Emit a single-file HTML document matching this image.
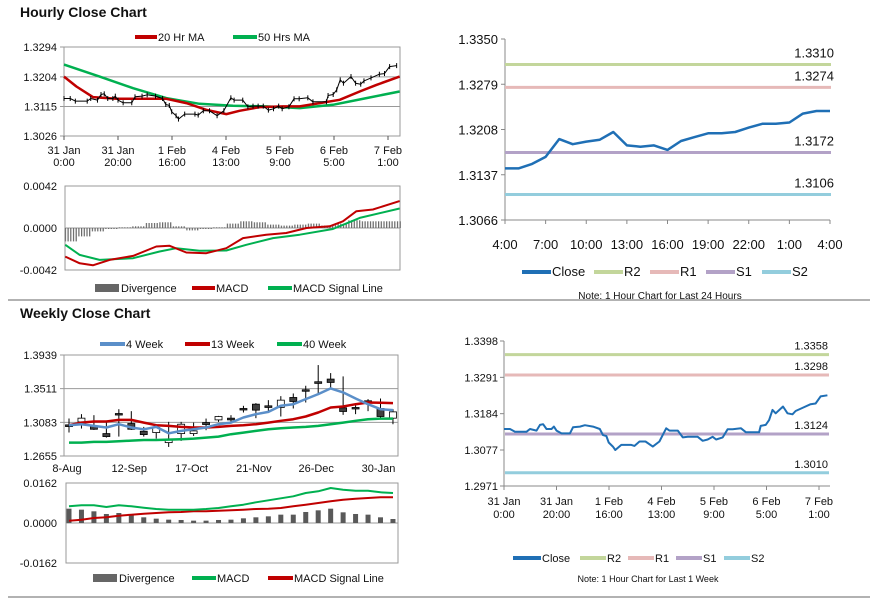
<!DOCTYPE html>
<html><head><meta charset="utf-8"><style>
body{margin:0;background:#fff;}
svg{display:block;font-family:"Liberation Sans",sans-serif;}
</style></head><body>
<svg id="s" width="873" height="601" viewBox="0 0 873 601" xmlns="http://www.w3.org/2000/svg">
<defs><pattern id="hatch" width="2.7" height="4" patternUnits="userSpaceOnUse"><rect x="0" y="0" width="1.2" height="4" fill="#666"/></pattern></defs>
<text x="20" y="17" font-size="14" font-weight="bold" fill="#111">Hourly Close Chart</text>
<text x="20" y="318" font-size="14" font-weight="bold" fill="#111">Weekly Close Chart</text>
<line x1="8" y1="300" x2="870" y2="300" stroke="#999" stroke-width="1.5"/>
<line x1="8" y1="597" x2="870" y2="597" stroke="#999" stroke-width="1.5"/>
</svg>
<script>
// ---------- Hourly (left top) ----------
const hCloseHours=[0,2.3,4.2,8.6,9.9,12.4,13.7,14.9,16.2,18.1,19,20,21.9,25.1,26.3,28.9,30.8,33.9,36.5,37.7,39,39.9,41.5,42.4,44.7,48.5,49.7,51.6,53.9,56.7,59.2,61.8,63,66.2,68.1,70,71.9,73.8,75.7,77.6,79.5,80.8,83.3,85.2,87.1,90.3,92.2,97.2,97.8,99.7,101,102.3,103.5,106.3,108,109.9,111.1,113.7,116.8,118.7,120.6,123.2];
const hCloseVals=[1.3139,1.3139,1.3131,1.3131,1.3139,1.3134,1.3151,1.3153,1.3139,1.3139,1.3146,1.3134,1.3126,1.3126,1.3144,1.3146,1.3150,1.3146,1.3139,1.3121,1.3118,1.3099,1.3087,1.3077,1.3092,1.3092,1.3089,1.3102,1.3102,1.3087,1.3102,1.3141,1.3134,1.3134,1.3114,1.3116,1.3116,1.3116,1.3104,1.3108,1.3116,1.3108,1.3114,1.3138,1.3138,1.3141,1.3129,1.3129,1.3148,1.3151,1.3165,1.3195,1.3185,1.3205,1.3185,1.3182,1.3192,1.3201,1.3212,1.3214,1.3235,1.3238];
const ma20Hours=[0,4.6,10.7,19.4,28,37.9,45.3,52.7,60.1,65,72.5,81.1,87.3,94.7,102.1,109.5,115.7,124.3];
const ma20Vals=[1.3205,1.3175,1.3143,1.3138,1.3138,1.3138,1.3125,1.3105,1.3092,1.3102,1.3113,1.3115,1.3115,1.3125,1.3135,1.3160,1.3180,1.3205];
const ma50Hours=[0,13.2,25.6,37.9,50.2,62.6,75,87.3,99.6,112,124.3];
const ma50Vals=[1.3241,1.3205,1.3170,1.3140,1.3123,1.3117,1.3115,1.3110,1.3120,1.3140,1.3160];
const hPriceTicks=[1.3294,1.3204,1.3115,1.3026];
const hTimeTicks=[0,20,40,60,80,100,120];
const hTimeLab1=["31 Jan","31 Jan","1 Feb","4 Feb","5 Feb","6 Feb","7 Feb"];
const hTimeLab2=["0:00","20:00","16:00","13:00","9:00","5:00","1:00"];
// hourly MACD
const macdHours=[0.5,5.8,10.7,16.9,25.6,34.2,39.1,45.3,52.7,60.1,66.3,74.9,82.3,89.8,98.4,103.3,108.3,114.4,124.3];
const macdVals=[-0.00286,-0.00353,-0.00373,-0.00319,-0.00279,-0.00185,-0.00178,-0.00245,-0.00252,-0.00202,-0.00101,-0.00067,-0.0005,0,0.00017,0.00067,0.00168,0.00185,0.00269];
const sigHours=[0.5,5.8,13.2,25.6,35.4,41.6,50.2,60.1,67.5,77.4,87.3,99.6,109.5,124.3];
const sigVals=[-0.00168,-0.00269,-0.00319,-0.00302,-0.00235,-0.00202,-0.00228,-0.00225,-0.00168,-0.00101,-0.00067,-0.0001,0.00101,0.00195];
const divHours=[0,5,10,15,20,25,30,35,40,45,50,55,60,65,70,75,80,85,90,95,100,105,110,115,120];
const divVals=[-0.00134,-0.00084,-0.00034,-0.0001,0.00007,0.00017,0.0005,0.00057,0.00017,-0.00024,-0.0001,0.00007,0.00044,0.00067,0.00057,0.00034,0.00024,0.00034,0.00044,0.00024,0.00044,0.00077,0.00067,0.00067,0.00067];
const macdTicks=[0.0042,0,-0.0042];
const macdTickLab=["0.0042","0.0000","-0.0042"];
// ---------- Weekly ----------
const wOpen=[1.3051,1.3089,1.3038,1.2940,1.3195,1.3068,1.2970,1.2953,1.2825,1.2940,1.2940,1.3080,1.3114,1.3136,1.3259,1.3314,1.3293,1.3272,1.3399,1.3497,1.3599,1.3633,1.3267,1.3272,1.3357,1.3259,1.3136];
const wClose=[1.3029,1.3136,1.2995,1.2902,1.3178,1.2995,1.2927,1.3017,1.2868,1.3059,1.2974,1.3055,1.3157,1.3114,1.3242,1.3238,1.3272,1.3365,1.3348,1.3480,1.3578,1.3590,1.3221,1.3259,1.3335,1.3157,1.3216];
const wHigh=[1.3131,1.3187,1.3174,1.3089,1.3250,1.3225,1.3025,1.3059,1.3089,1.3089,1.3080,1.3131,1.3165,1.3174,1.3293,1.3327,1.3365,1.3416,1.3450,1.3548,1.3811,1.3709,1.3667,1.3323,1.3378,1.3386,1.3250];
const wLow=[1.2953,1.3004,1.2987,1.2889,1.2902,1.2987,1.2902,1.2876,1.2770,1.2847,1.2910,1.2983,1.3089,1.3089,1.3208,1.3136,1.3216,1.3157,1.3259,1.3335,1.3454,1.3518,1.3178,1.3187,1.3225,1.3144,1.3059];
const ma4w=[1.3046,1.3059,1.3038,1.3017,1.3059,1.3017,1.2995,1.3025,1.2944,1.2974,1.2995,1.3017,1.3059,1.3080,1.3144,1.3187,1.3216,1.3293,1.3314,1.3378,1.3442,1.3514,1.3463,1.3386,1.3314,1.3250,1.3238];
const ma13w=[1.3046,1.3080,1.3093,1.3093,1.3114,1.3114,1.3080,1.3046,1.3038,1.3025,1.3017,1.3017,1.3025,1.3038,1.3046,1.3059,1.3080,1.3102,1.3123,1.3157,1.3208,1.3272,1.3284,1.3314,1.3335,1.3331,1.3327];
const ma40w=[1.2825,1.2825,1.2834,1.2834,1.2842,1.2851,1.2859,1.2859,1.2864,1.2868,1.2876,1.2889,1.2902,1.2932,1.2953,1.2974,1.2995,1.3008,1.3017,1.3025,1.3038,1.3059,1.3080,1.3102,1.3123,1.3131,1.3131];
const wPriceTicks=[1.3939,1.3511,1.3083,1.2655];
const wLabIdx=[0,5,10,15,20,25];
const wLabels=["8-Aug","12-Sep","17-Oct","21-Nov","26-Dec","30-Jan"];
const wMacd=[0.00675,0.00716,0.00716,0.00648,0.00716,0.00675,0.00621,0.00567,0.0054,0.0054,0.0054,0.00567,0.00608,0.00675,0.00743,0.00837,0.00918,0.00999,0.0108,0.01215,0.01283,0.01418,0.0135,0.0131,0.0131,0.01242,0.01215];
const wSig=[0.00095,0.00135,0.00203,0.0023,0.00297,0.00338,0.00378,0.00405,0.00432,0.00446,0.00473,0.00473,0.005,0.00513,0.0054,0.00567,0.0058,0.00608,0.00675,0.00743,0.0081,0.00878,0.00945,0.00986,0.01013,0.0104,0.0104];
const wDiv=[0.0058,0.0054,0.00473,0.00365,0.00405,0.00338,0.0023,0.00176,0.00135,0.00122,0.00095,0.00095,0.00122,0.00135,0.00189,0.0023,0.0027,0.00338,0.00338,0.00446,0.00513,0.0058,0.00432,0.00365,0.00338,0.0023,0.00162];
const wMacdTicks=[0.0162,0,-0.0162];
const wMacdLab=["0.0162","0.0000","-0.0162"];
// ---------- Right top (24h) ----------
const dayClose=[1.3147,1.3147,1.3154,1.3165,1.3193,1.3185,1.3189,1.3192,1.3204,1.3183,1.3181,1.3183,1.3176,1.3190,1.3196,1.3202,1.3202,1.3204,1.3211,1.3217,1.3217,1.3219,1.3233,1.3237,1.3237];
const dayLevels=[1.3310,1.3274,1.3172,1.3106];
const dayTicks=[1.3350,1.3279,1.3208,1.3137,1.3066];
const dayTimeLab=["4:00","7:00","10:00","13:00","16:00","19:00","22:00","1:00","4:00"];
// ---------- Right bottom (week) ----------
const weekLevels=[1.3358,1.3298,1.3124,1.3010];
const weekTicks=[1.3398,1.3291,1.3184,1.3077,1.2971];
const levelNames=["R2","R1","S1","S2"];
const levelColors=["#c3d69b","#e6b9b8","#b3a2c7","#93cddd"];

const S=document.getElementById('s');
const NS="http://www.w3.org/2000/svg";
function mk(tag,attrs,parent){const e=document.createElementNS(NS,tag);for(const k in attrs)e.setAttribute(k,attrs[k]);(parent||S).appendChild(e);return e;}
function txt(x,y,s,size,anchor,fill){const e=mk('text',{x:x,y:y,'font-size':size,'text-anchor':anchor||'start',fill:fill||'#111'});e.textContent=s;return e;}
function poly(xs,ys,color,w){return mk('polyline',{points:xs.map((x,i)=>x.toFixed(1)+','+ys[i].toFixed(1)).join(' '),fill:'none',stroke:color,'stroke-width':w,'stroke-linejoin':'round'});}

// scales
const xH=h=>64+h*2.7;
const yP1=v=>47+(1.3294-v)/0.0268*89;
const yM1=v=>228-v/0.0042*42;
const xW=i=>69+i*12.46;
const yW=v=>355+(1.3939-v)/0.1284*101;
const yWM=v=>523-v/0.0162*40;
const xR=i=>505+i*325/24;
const yR=v=>39+(1.3350-v)/0.0284*181;
const xB=h=>504+h*2.625;
const yB=v=>341+(1.3398-v)/0.0427*145;

let e;
function frame(x1,y1,x2,y2,name){
  e=mk('rect',{x:x1,y:y1,width:x2-x1,height:y2-y1,fill:'none',stroke:'#999','stroke-width':1});
  
  
}
function legendLine(x,y,color,label,w,size,name){
  const g=mk('g',{});
  
  
  mk('line',{x1:x,y1:y,x2:x+w,y2:y,stroke:color,'stroke-width':4},g);
  const t=mk('text',{x:x+w+1,y:y+4,'font-size':size,fill:'#111'},g);t.textContent=label;
}
function legendBox(x,y,label,name){
  const g=mk('g',{});
  
  
  mk('rect',{x:x,y:y-4,width:24,height:8,fill:'#666'},g);
  const t=mk('text',{x:x+26,y:y+4,'font-size':11,fill:'#111'},g);t.textContent=label;
}

// ===== Hourly price chart =====
frame(64,47,400,136,'hourly-plot-frame');
hPriceTicks.forEach(v=>{
  e=mk('line',{x1:60,y1:yP1(v),x2:400,y2:yP1(v),stroke:'#999','stroke-width':1});
  
  
  e=txt(57,yP1(v)+4,v.toFixed(4),11,'end');
  
  
});
hTimeTicks.forEach((h,i)=>{
  e=mk('line',{x1:xH(h),y1:136,x2:xH(h),y2:140,stroke:'#555'});
  
  
  e=txt(xH(h),154,hTimeLab1[i],11,'middle');
  
  
  e=txt(xH(h),166,hTimeLab2[i],11,'middle');
  
  
});
e=poly(ma50Hours.map(xH),ma50Vals.map(yP1),'#00b050',2.5);


e=poly(ma20Hours.map(xH),ma20Vals.map(yP1),'#c00000',2.5);


e=poly(hCloseHours.map(xH),hCloseVals.map(yP1),'#000',1);


hCloseHours.forEach((h,i)=>{
  e=mk('line',{x1:xH(h),y1:yP1(hCloseVals[i])-2.5,x2:xH(h),y2:yP1(hCloseVals[i])+2.5,stroke:'#000','stroke-width':1});
  
  
});
legendLine(135,37,'#c00000','20 Hr MA',22,11,'legend-ma20');
legendLine(233,37,'#00b050','50 Hrs MA',24,11,'legend-ma50');

// ===== Hourly MACD =====
frame(65,186,400,270,'hourly-macd-frame');
e=mk('line',{x1:65,y1:yM1(0),x2:400,y2:yM1(0),stroke:'#999'});


macdTicks.forEach((v,i)=>{
  e=txt(57,yM1(v)+4,macdTickLab[i],11,'end');
  
  
});
divHours.forEach((h,i)=>{
  const y0=yM1(0),y1=yM1(divVals[i]);
  e=mk('rect',{x:xH(h),y:Math.min(y0,y1),width:13.5,height:Math.max(0.8,Math.abs(y1-y0)),fill:'url(#hatch)'});
  
  
});
e=poly(sigHours.map(xH),sigVals.map(yM1),'#00b050',2);


e=poly(macdHours.map(xH),macdVals.map(yM1),'#c00000',2);


legendBox(95,288,'Divergence','legend-hourly-divergence');
legendLine(192,288,'#c00000','MACD',23,11,'legend-hourly-macd');
legendLine(268,288,'#00b050','MACD Signal Line',24,11,'legend-hourly-signal');

// ===== Weekly price chart =====
frame(64,355,398,456,'weekly-plot-frame');
wPriceTicks.forEach(v=>{
  e=mk('line',{x1:60,y1:yW(v),x2:398,y2:yW(v),stroke:'#999'});
  
  
  e=txt(57,yW(v)+4,v.toFixed(4),11,'end');
  
  
});
wLabIdx.forEach((idx,i)=>{
  e=txt(xW(idx)-2,472,wLabels[i],11,'middle');
  
  
});
wOpen.forEach((o,i)=>{
  const c=wClose[i],x=xW(i);
  e=mk('line',{x1:x,y1:yW(wHigh[i]),x2:x,y2:yW(wLow[i]),stroke:'#000','stroke-width':1});
  
  
  const top=yW(Math.max(o,c)),bot=yW(Math.min(o,c));
  e=mk('rect',{x:x-3.5,y:top,width:7,height:Math.max(1.5,bot-top),fill:c<o?'#404040':'#fff',stroke:'#000','stroke-width':0.8});
  
  
});
e=poly(ma40w.map((v,i)=>xW(i)),ma40w.map(yW),'#00b050',2.5);


e=poly(ma13w.map((v,i)=>xW(i)),ma13w.map(yW),'#c00000',2.5);


e=poly(ma4w.map((v,i)=>xW(i)),ma4w.map(yW),'#5b8fc9',2.5);


legendLine(100,344,'#5b8fc9','4 Week',25,11,'legend-4-week');
legendLine(185,344,'#c00000','13 Week',25,11,'legend-13-week');
legendLine(277,344,'#00b050','40 Week',25,11,'legend-40-week');

// ===== Weekly MACD =====
frame(66,483,398,563,'weekly-macd-frame');
e=mk('line',{x1:66,y1:yWM(0),x2:398,y2:yWM(0),stroke:'#999'});


wMacdTicks.forEach((v,i)=>{
  e=txt(57,yWM(v)+4,wMacdLab[i],11,'end');
  
  
});
wDiv.forEach((v,i)=>{
  const y0=yWM(0),y1=yWM(v);
  e=mk('rect',{x:xW(i)-2.5,y:Math.min(y0,y1),width:5,height:Math.abs(y1-y0),fill:'#595959'});
  
  
});
e=poly(wSig.map((v,i)=>xW(i)),wSig.map(yWM),'#c00000',2);


e=poly(wMacd.map((v,i)=>xW(i)),wMacd.map(yWM),'#00b050',2);


legendBox(93,578,'Divergence','legend-weekly-divergence');
legendLine(192,578,'#00b050','MACD',24,11,'legend-weekly-macd');
legendLine(268,578,'#c00000','MACD Signal Line',25,11,'legend-weekly-signal');

// ===== Right top: 24h chart =====
e=mk('line',{x1:505,y1:39,x2:505,y2:220,stroke:'#888'});


e=mk('line',{x1:505,y1:220,x2:830,y2:220,stroke:'#888'});


dayTicks.forEach(v=>{
  e=mk('line',{x1:501,y1:yR(v),x2:505,y2:yR(v),stroke:'#888'});
  
  
  e=txt(498,yR(v)+5,v.toFixed(4),13,'end');
  
  
});
dayTimeLab.forEach((s,i)=>{
  const x=xR(i*3);
  e=mk('line',{x1:x,y1:220,x2:x,y2:224,stroke:'#888'});
  
  
  e=txt(x,249,s,13,'middle');
  
  
});
dayLevels.forEach((v,i)=>{
  e=mk('line',{x1:505,y1:yR(v),x2:831,y2:yR(v),stroke:levelColors[i],'stroke-width':3});
  
  
  e=txt(834,yR(v)-7,v.toFixed(4),13,'end');
  
  
});
e=poly(dayClose.map((v,i)=>xR(i)),dayClose.map(yR),'#1f6fb5',2.5);


legendLine(522,272,'#1f6fb5','Close',29,13,'legend-day-close');
levelNames.forEach((n,i)=>{
  legendLine(594+i*56,272,levelColors[i],n,29,13,'legend-day-'+n.toLowerCase());
});
e=txt(660,299,'Note: 1 Hour Chart for Last 24 Hours',10,'middle');



// ===== Right bottom: 1 week chart =====
e=mk('line',{x1:504,y1:341,x2:504,y2:486,stroke:'#888'});


e=mk('line',{x1:504,y1:486,x2:830,y2:486,stroke:'#888'});


weekTicks.forEach(v=>{
  e=mk('line',{x1:500,y1:yB(v),x2:504,y2:yB(v),stroke:'#888'});
  
  
  e=txt(498,yB(v)+4,v.toFixed(4),11,'end');
  
  
});
hTimeTicks.forEach((h,i)=>{
  e=mk('line',{x1:xB(h),y1:486,x2:xB(h),y2:490,stroke:'#888'});
  
  
  e=txt(xB(h),505,hTimeLab1[i],11,'middle');
  
  
  e=txt(xB(h),518,hTimeLab2[i],11,'middle');
  
  
});
weekLevels.forEach((v,i)=>{
  e=mk('line',{x1:505,y1:yB(v),x2:829,y2:yB(v),stroke:levelColors[i],'stroke-width':3});
  
  
  e=txt(828,yB(v)-5,v.toFixed(4),11,'end');
  
  
});
e=poly(hCloseHours.map(xB),hCloseVals.map(yB),'#1f6fb5',2);


legendLine(513,558,'#1f6fb5','Close',28,11,'legend-week-close');
levelNames.forEach((n,i)=>{
  legendLine(580+i*48,558,levelColors[i],n,26,11,'legend-week-'+n.toLowerCase());
});
e=txt(648,582,'Note: 1 Hour Chart for  Last 1 Week',9,'middle');


</script>
</body></html>
